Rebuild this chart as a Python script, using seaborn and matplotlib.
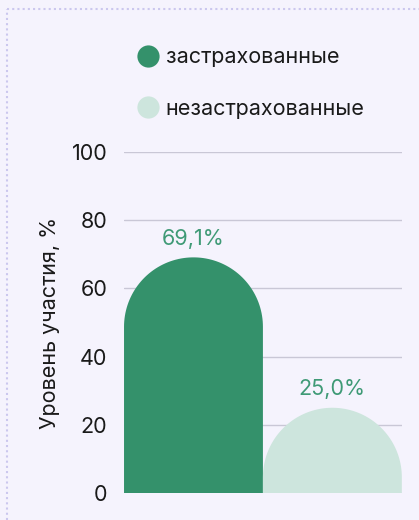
import matplotlib
matplotlib.use('Agg')
import matplotlib.pyplot as plt
import matplotlib.patches as mpatches
from matplotlib.lines import Line2D
import seaborn as sns
import pandas as pd
import numpy as np

groups = ['застрахованные', 'незастрахованные']
values = [69.1, 25.0]
labels = ['69,1%', '25,0%']
colors = ['#34916b', '#cde5dd']
yticks = [0, 20, 40, 60, 80, 100]

bg = '#f5f3fd'
sns.set_style('white')
plt.rcParams['font.family'] = ['Inter', 'DejaVu Sans']

df = pd.DataFrame({'group': groups, 'value': values})

fig = plt.figure(figsize=(4.19, 5.2), dpi=100, facecolor=bg)
ax = fig.add_axes([0.296, 0.0519, 0.663, 0.6558], facecolor=bg)
sns.barplot(data=df, x='group', y='value', hue='group', palette=colors,
            width=1.0, legend=False, ax=ax)
ax.set_ylim(0, 100)
ax.set_xlim(-0.5, 1.5)
ax.set_yticks(yticks)
ax.yaxis.grid(True, color='#c9c7d6', lw=1)
ax.set_axisbelow(True)
for s in ax.spines.values():
    s.set_visible(False)
ax.set_xticks([])
ax.set_xlabel('')
ax.tick_params(axis='y', length=0, pad=12, labelsize=15.5, labelcolor='#1a1a1a')
ax.set_ylabel('Уровень участия, %', fontsize=15.5, color='#1a1a1a', labelpad=8)

# скругляем верх столбцов
fig.canvas.draw()
px_per_unit = ax.bbox.height / 100.0
span = ax.get_xlim()[1] - ax.get_xlim()[0]
for p, c in zip(list(ax.patches), colors):
    x0, w, h = p.get_x(), p.get_width(), p.get_height()
    rx = w / 2
    ry = (ax.bbox.width * w / span / 2.0) / px_per_unit
    base = max(h - ry, 0)
    t = np.linspace(np.pi, 0, 80)
    xs = x0 + rx + rx * np.cos(t)
    ys = base + min(ry, h) * np.sin(t)
    verts = [(x0, 0), (x0, base)] + list(zip(xs, ys)) + [(x0 + w, 0), (x0, 0)]
    p.set_visible(False)
    ax.add_patch(mpatches.Polygon(verts, closed=True, facecolor=c, edgecolor='none', zorder=3))

for i, (v, lab) in enumerate(zip(values, labels)):
    ax.annotate(lab, (i, v), xytext=(0, 6), textcoords='offset points',
                ha='center', va='bottom', fontsize=15.5, color='#3f9a76')

# легенда
handles = [Line2D([], [], marker='o', ls='', markersize=16, markerfacecolor=c,
                  markeredgecolor='none') for c in colors]
fig.legend(handles, groups, loc='upper left', bbox_to_anchor=(0.275, 0.946),
           frameon=False, fontsize=15.5, labelspacing=1.45, handletextpad=0.25,
           handlelength=1.2, labelcolor='#1a1a1a')

# пунктирная рамка
fig.add_artist(Line2D([0.017, 0.017], [0, 0.983], transform=fig.transFigure,
                      color='#cbc7ee', lw=1.5, ls=(0, (1, 1.5))))
fig.add_artist(Line2D([0.017, 1.0], [0.983, 0.983], transform=fig.transFigure,
                      color='#cbc7ee', lw=1.5, ls=(0, (1, 1.5))))

fig.savefig('out.png', dpi=100, facecolor=bg)
